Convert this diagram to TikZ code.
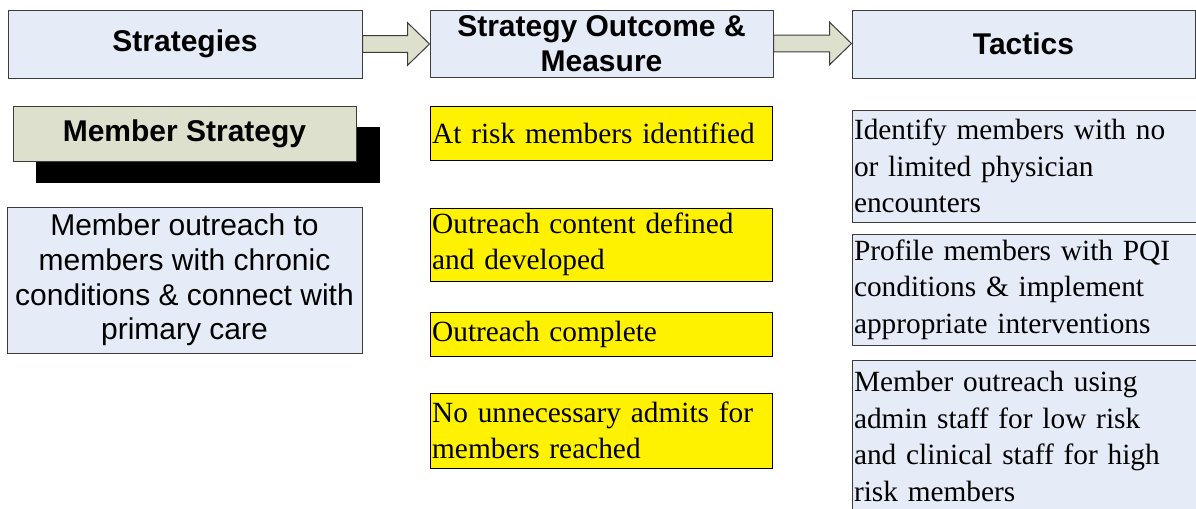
\documentclass[tikz,border=0pt]{standalone}
\usepackage{fontspec}
\setmainfont{Liberation Serif}
\setsansfont{Liberation Sans}
\usetikzlibrary{calc,backgrounds}

\definecolor{hdblue}{RGB}{230,236,247}
\definecolor{sage}{RGB}{221,224,204}
\definecolor{edgegrey}{RGB}{60,60,60}

\tikzset{every picture/.style={line width=0.75pt}}
\tikzset{
	header/.style={draw=edgegrey, fill=hdblue, align=center, inner sep=0pt,
		font=\sffamily\bfseries\fontsize{22.5}{26}\selectfont},
	outcome/.style={draw=black, fill=yellow, align=left, inner xsep=1.5pt,
		text width=254pt, font=\rmfamily\fontsize{22}{27.4}\selectfont},
	tactic/.style={draw=edgegrey, fill=hdblue, align=left, inner xsep=1.5pt,
		text width=258pt, font=\rmfamily\fontsize{22}{27.4}\selectfont},
	flowarrow/.style={draw=edgegrey, fill=sage, line join=miter}
}

% block arrow from the east side of #1 to the west side of #2
\newcommand{\blockarrow}[2]{%
	\draw[flowarrow] let \p1=(#1.east), \p2=(#2.west) in
		(\x1,\y1+6.2pt) -- (\x2-16.5pt,\y1+6.2pt) -- (\x2-16.5pt,\y1+16pt) -- (\x2,\y1)
		-- (\x2-16.5pt,\y1-16pt) -- (\x2-16.5pt,\y1-6.2pt) -- (\x1,\y1-6.2pt) -- cycle;}

\begin{document}
\begin{tikzpicture}[x=0.75pt,y=0.75pt,yscale=-1,xscale=1]
	\clip (0,0) rectangle (1196,508);

	% Column headers
	\node[header, minimum width=265.5pt, minimum height=51pt] (strat) at (185,44) {Strategies};
	\node[header, minimum width=257.25pt, minimum height=50.25pt] (outc) at (601.5,43.5) {Strategy Outcome \&\\Measure};
	\node[header, minimum width=257.25pt, minimum height=51pt] (tact) at (1023.5,44) {Tactics};

	\blockarrow{strat}{outc}
	\blockarrow{outc}{tact}

	% Strategies column
	\node[header, fill=sage, minimum width=257.25pt, minimum height=41.25pt] (ms) at (184.5,133.5) {Member Strategy};
	\begin{scope}[on background layer]
		\fill[black] ($(ms.north west)+(23,21.5)$) rectangle ($(ms.south east)+(23,21.5)$);
	\end{scope}
	\node[header, font=\sffamily\fontsize{22.5}{26}\selectfont, minimum width=266.25pt, minimum height=109.5pt] (mo) at (184.5,280)
		{Member outreach to\\members with chronic\\conditions \& connect with\\primary care};

	% Outcome column
	\node[outcome, minimum height=40.5pt] (o1) at (601.5,133) {At risk members identified};
	\node[outcome, minimum height=54.75pt] (o2) at (601.5,244.5) {Outreach content defined\\and developed};
	\node[outcome, minimum height=33pt] (o3) at (601.5,334) {Outreach complete};
	\node[outcome, minimum height=56.25pt] (o4) at (601.5,430.5) {No unnecessary admits for\\members reached};

	% Tactics column
	\node[tactic, minimum height=84pt] (t1) at (1026,166) {Identify members with no\\or limited physician\\encounters};
	\node[tactic, minimum height=83.25pt] (t2) at (1026,289.5) {Profile members with PQI\\conditions \& implement\\appropriate interventions};
	\node[tactic, anchor=north, inner ysep=8pt, text depth=130pt] (t3) at (1026,360) {Member outreach using\\admin staff for low risk\\and clinical staff for high\\risk members};

\end{tikzpicture}
\end{document}
